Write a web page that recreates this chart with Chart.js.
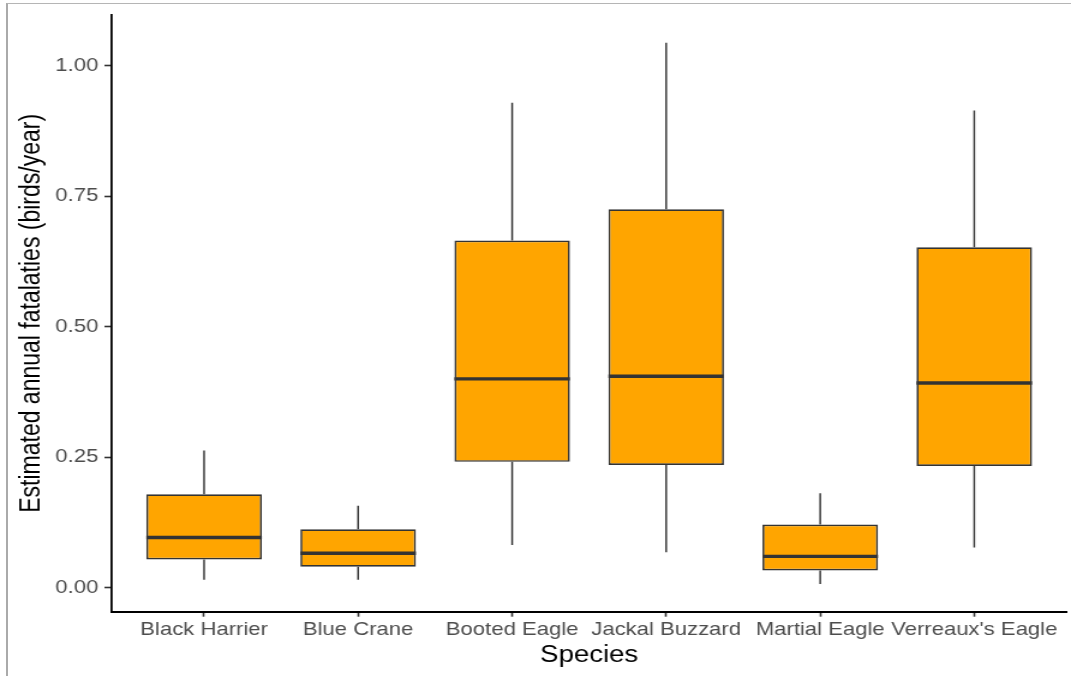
<!DOCTYPE html>
<html>
<head>
<meta charset="utf-8">
<title>Estimated annual fatalities by species</title>
<script src="https://cdn.jsdelivr.net/npm/chart.js@4/dist/chart.umd.min.js"></script>
<style>
  html, body { margin: 0; padding: 0; background: #fff; overflow: hidden; }
  #frame { position: absolute; left: 0; top: 0; width: 1071px; height: 676px; overflow: hidden; }
  /* the plot is drawn on a narrower canvas and widened to the full page width */
  #stage { position: absolute; left: 0; top: 0; transform: scaleX(1.20067); transform-origin: 0 0; }
  #edge { position: absolute; left: 6px; top: 3px; width: 1200px; height: 800px;
          border-top: 1.5px solid #b5b5b5; border-left: 2px solid #aaaaaa; }
</style>
</head>
<body>
<div id="frame">
  <div id="stage"><canvas id="c" width="892" height="676"></canvas></div>
  <div id="edge"></div>
</div>
<script>
// Box-plot summaries per species (birds/year)
const species = ['Black Harrier', 'Blue Crane', 'Booted Eagle', 'Jackal Buzzard', 'Martial Eagle', "Verreaux's Eagle"];
const whiskerLow    = [0.015, 0.015, 0.082, 0.068, 0.007, 0.077];
const lowerQuartile = [0.054, 0.040, 0.241, 0.235, 0.033, 0.233];
const median        = [0.096, 0.066, 0.400, 0.405, 0.060, 0.392];
const upperQuartile = [0.179, 0.112, 0.665, 0.725, 0.121, 0.652];
const whiskerHigh   = [0.263, 0.157, 0.929, 1.044, 0.181, 0.914];
const yTicks = [0, 0.25, 0.5, 0.75, 1.0];

const BOX_WIDTH = 0.75;           // box width as a fraction of the category step
const HALF = BOX_WIDTH / 2;
const FONT = '"Liberation Sans", Arial, sans-serif';
const INK = '#333333';

// boxes: floating bars from lower to upper quartile
const boxData = species.map((_, i) => ({ x: i, y: [lowerQuartile[i], upperQuartile[i]] }));
// whiskers: two vertical segments per species, separated by gaps
const whiskerData = species.flatMap((_, i) => [
  { x: i, y: whiskerLow[i] }, { x: i, y: lowerQuartile[i] }, { x: i, y: null },
  { x: i, y: upperQuartile[i] }, { x: i, y: whiskerHigh[i] }, { x: i, y: null }
]);
// medians: horizontal segment spanning the box
const medianData = species.flatMap((_, i) => [
  { x: i - HALF, y: median[i] }, { x: i + HALF, y: median[i] }, { x: i, y: null }
]);

new Chart(document.getElementById('c'), {
  type: 'bar',
  data: {
    datasets: [
      { type: 'line', label: 'Median', data: medianData, borderColor: INK, borderWidth: 3.4,
        borderCapStyle: 'butt', pointRadius: 0, spanGaps: false, order: 0 },
      { type: 'bar', label: 'Interquartile range', data: boxData, backgroundColor: '#FFA500',
        borderColor: INK, borderWidth: 1.7, borderSkipped: false,
        barPercentage: BOX_WIDTH, categoryPercentage: 1, order: 1 },
      { type: 'line', label: 'Whiskers', data: whiskerData, borderColor: INK, borderWidth: 1.45,
        pointRadius: 0, spanGaps: false, order: 2 }
    ]
  },
  options: {
    responsive: false,
    animation: false,
    devicePixelRatio: 1,
    layout: { padding: { top: 15, right: 3.6, left: 0, bottom: 0 } },
    plugins: { legend: { display: false }, tooltip: { enabled: false } },
    scales: {
      x: {
        type: 'linear', min: -0.6, max: 5.6, offset: false,
        afterBuildTicks: s => { s.ticks = species.map((_, i) => ({ value: i })); },
        afterFit: s => { s.height = 64.3; },
        ticks: { callback: v => species[v] ?? '', autoSkip: false, maxRotation: 0, padding: 3.6,
                 color: '#4d4d4d', font: { family: FONT, size: 18.4, lineHeight: 1 } },
        grid: { drawOnChartArea: false, drawTicks: true, tickLength: 5, tickColor: INK, tickWidth: 1.6, offset: false },
        border: { display: true, color: '#000000', width: 2 },
        title: { display: true, text: 'Species', color: '#000000',
                 font: { family: FONT, size: 23, lineHeight: 1.2 }, padding: { top: 0, bottom: 6.4 } }
      },
      y: {
        type: 'linear', min: -0.046, max: 1.097,
        afterBuildTicks: s => { s.ticks = yTicks.map(v => ({ value: v })); },
        afterFit: s => { s.width = 93; },
        ticks: { callback: v => Number(v).toFixed(2), padding: 5.1,
                 color: '#4d4d4d', font: { family: FONT, size: 18.4, lineHeight: 1 } },
        grid: { drawOnChartArea: false, drawTicks: true, tickLength: 6, tickColor: INK, tickWidth: 1.6 },
        border: { display: true, color: '#000000', width: 1.8 },
        title: { display: true, text: 'Estimated annual fatalaties (birds/year)', color: '#000000',
                 font: { family: FONT, size: 23, lineHeight: 1.2 }, padding: { top: 13.2, bottom: 0 } }
      }
    }
  }
});
</script>
</body>
</html>
